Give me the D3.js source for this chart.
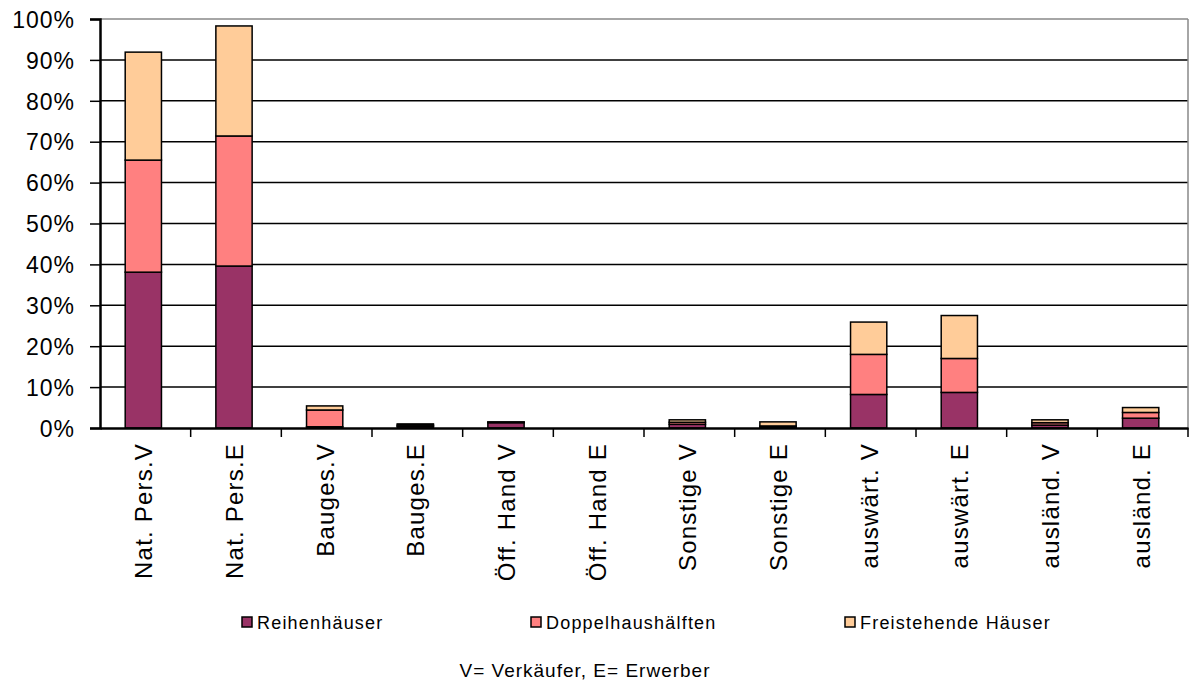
<!DOCTYPE html>
<html>
<head>
<meta charset="utf-8">
<title>Käufer und Verkäufer</title>
<script src="https://cdn.jsdelivr.net/npm/d3@7"></script>
<style>
  body { margin: 0; background: #fff; }
  svg text { font-family: Arial, "Liberation Sans", sans-serif; fill: #000; }
  .ylab { font-size: 23px; letter-spacing: 1px; }
  .xlab { font-size: 24px; letter-spacing: 1.2px; }
  .leg { font-size: 18px; letter-spacing: 1.2px; }
  .note { font-size: 19px; letter-spacing: 1px; }
</style>
</head>
<body>
<svg width="1189" height="681"></svg>
<script>
// data, in percent
var categories = ["Nat. Pers.V", "Nat. Pers.E", "Bauges.V", "Bauges.E", "Öff. Hand V", "Öff. Hand E",
                  "Sonstige V", "Sonstige E", "auswärt. V", "auswärt. E", "ausländ. V", "ausländ. E"];
var reihen   = [38.1, 39.6, 0.3, 0.4, 1.3, 0, 0.9, 0.3, 8.2, 8.7, 0.7, 2.4];
var doppel   = [27.4, 31.8, 4.1, 0.3, 0.1, 0, 0.5, 0.2, 9.8, 8.3, 0.6, 1.4];
var freist   = [26.4, 26.9, 1.0, 0.3, 0.1, 0, 0.6, 1.0, 7.9, 10.5, 0.7, 1.2];
var seriesNames = ["Reihenhäuser", "Doppelhaushälften", "Freistehende Häuser"];
var yTicks = [0, 10, 20, 30, 40, 50, 60, 70, 80, 90, 100];

var colors = ["#993366", "#FF8080", "#FFCC99"];
var keys = ["r", "d", "f"];

var rows = categories.map(function(c, i) {
  return { cat: c, r: reihen[i], d: doppel[i], f: freist[i] };
});

var svg = d3.select("svg");
var plotL = 100, plotR = 1188, plotT = 19, plotB = 428;

var x = d3.scaleBand().domain(categories).range([plotL, plotR]).paddingInner(0).paddingOuter(0);
var y = d3.scaleLinear().domain([0, 100]).range([plotB, plotT]);

// gridlines
svg.append("g").selectAll("line")
  .data(yTicks.filter(function(t) { return t > 0; }))
  .enter().append("line")
  .attr("x1", plotL).attr("x2", plotR)
  .attr("y1", function(d) { return y(d); }).attr("y2", function(d) { return y(d); })
  .attr("stroke", function(d) { return d === 100 ? "#888" : "#000"; })
  .attr("stroke-width", 1.5);

// right border
svg.append("line")
  .attr("x1", plotR).attr("x2", plotR).attr("y1", plotT).attr("y2", plotB)
  .attr("stroke", "#888").attr("stroke-width", 1.5);

// bars
var stack = d3.stack().keys(keys)(rows);
var bw = x.bandwidth() * 0.4;

svg.append("g").selectAll("g")
  .data(stack)
  .enter().append("g")
  .attr("fill", function(d, i) { return colors[i]; })
  .selectAll("rect")
  .data(function(d) { return d.filter(function(s) { return s[1] - s[0] > 0; }); })
  .enter().append("rect")
  .attr("x", function(d) { return x(d.data.cat) + (x.bandwidth() - bw) / 2 - 2; })
  .attr("width", bw)
  .attr("y", function(d) { return y(d[1]); })
  .attr("height", function(d) { return y(d[0]) - y(d[1]); })
  .attr("stroke", "#000")
  .attr("stroke-width", 1.5);

// y axis
var yAxis = svg.append("g")
  .attr("transform", "translate(" + plotL + ",0)")
  .call(d3.axisLeft(y).tickValues(yTicks).tickSize(10).tickPadding(15)
    .tickFormat(function(d) { return d + "%"; }));
yAxis.select(".domain").attr("stroke", "#000").attr("stroke-width", 2.5);
yAxis.selectAll(".tick line").attr("stroke", "#000").attr("stroke-width", 1.5);
yAxis.selectAll(".tick text").attr("class", "ylab").attr("dy", "0.36em");

// x axis
var xAxis = svg.append("g")
  .attr("transform", "translate(0," + plotB + ")")
  .call(d3.axisBottom(x).tickSize(0).tickFormat(""));
xAxis.select(".domain").attr("stroke", "#000").attr("stroke-width", 2.5);

svg.append("g").selectAll("line")
  .data(categories)
  .enter().append("line")
  .attr("x1", function(d) { return x(d) + x.bandwidth(); })
  .attr("x2", function(d) { return x(d) + x.bandwidth(); })
  .attr("y1", plotB).attr("y2", plotB + 9)
  .attr("stroke", "#000").attr("stroke-width", 1.5);

svg.append("g").selectAll("text")
  .data(categories)
  .enter().append("text")
  .attr("class", "xlab")
  .attr("text-anchor", "end")
  .attr("transform", function(d) {
    return "translate(" + (x(d) + x.bandwidth() / 2 + 7) + "," + 443 + ") rotate(-90)";
  })
  .text(function(d) { return d; });

// legend
var legX = [242, 531, 845];
var leg = svg.append("g").selectAll("g")
  .data(seriesNames)
  .enter().append("g")
  .attr("transform", function(d, i) { return "translate(" + legX[i] + ",617)"; });
leg.append("rect")
  .attr("width", 10).attr("height", 10)
  .attr("fill", function(d, i) { return colors[i]; })
  .attr("stroke", "#000").attr("stroke-width", 1.5);
leg.append("text")
  .attr("class", "leg")
  .attr("x", 15).attr("y", 12)
  .text(function(d) { return d; });

svg.append("text")
  .attr("class", "note")
  .attr("x", 585).attr("y", 677)
  .attr("text-anchor", "middle")
  .text("V= Verkäufer, E= Erwerber");
</script>
</body>
</html>
